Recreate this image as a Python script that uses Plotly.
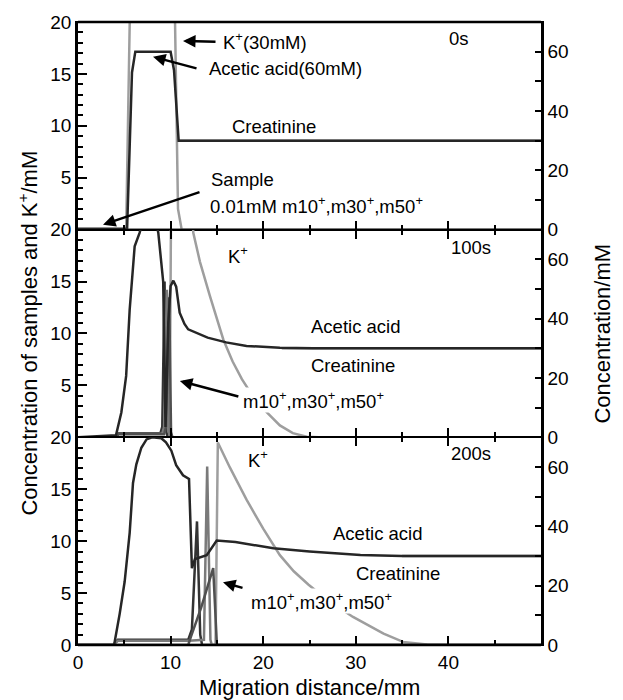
import plotly.graph_objects as go
from plotly.subplots import make_subplots

# ---------------- data ----------------
# axis ticks
x_major = [0, 10, 20, 30, 40]
x_minor = [5, 15, 25, 35, 45]
yl_major_top = [5, 10, 15, 20]
yl_major_bottom = [0, 5, 10, 15, 20]
yl_minor = [v for v in range(1, 20) if v % 5 != 0]
yr_major = [0, 20, 40, 60]
yr_minor = [10, 30, 50]

# ---- 0 s ----
k_x_0 = [0, 5.2, 5.78, 10.3, 10.8, 11.2, 50]
k_y_0 = [0, 0, 30, 30, 2, 0, 0]
acetic_x_0 = [0, 5.3, 5.83, 6.19, 10.0, 10.37, 10.87, 50]
acetic_y_0 = [0, 0, 53, 60, 60, 53.7, 30, 30]
creat_x_0 = [10.87, 50]
creat_y_0 = [30, 30]
sample_x_0 = [0, 5.2, 5.35, 50]
sample_y_0 = [0.1, 0.1, 0, 0]

# ---- 100 s ----
k_x_100 = [0, 9.9, 10.1, 11.9, 12.45, 13.17, 14.25, 15.0, 15.7, 16.7, 17.7, 19.0, 20.4, 21.8, 23.2, 24.7, 26.0, 50]
k_y_100 = [0, 0, 30, 30, 19.7, 16.9, 13.6, 11.4, 9.4, 7.3, 5.6, 3.8, 2.4, 1.15, 0.4, 0.05, 0, 0]
acetic_x_100 = [0, 4.1, 4.68, 5.2, 5.58, 5.94, 6.12, 6.66, 7.0, 8.4, 8.67, 9.2, 9.45, 9.75, 10.0, 10.3, 10.6,
                10.98, 11.5, 11.9, 13.0, 14.0, 16.0, 18.2, 21.8, 25.4, 50]
acetic_y_100 = [0, 0.7, 8.4, 20.7, 43, 57.4, 64.4, 69, 73, 73, 69, 52.5, 3.5, 38.5, 51, 52.8, 50.8,
                42, 38.2, 36.4, 35, 33.6, 32, 30.8, 30.2, 30.03, 30]
creat_x_100 = [22, 50]
creat_y_100 = [30, 30]
m10_x_100 = [0, 4.0, 4.4, 8.9, 9.1, 9.35, 9.55, 9.7, 50]
m10_y_100 = [0, 0, 0.4, 0.4, 1.0, 15.0, 0.5, 0, 0]
m30_x_100 = [0, 4.0, 4.4, 9.1, 9.3, 9.6, 9.8, 9.95, 50]
m30_y_100 = [0, 0, 0.35, 0.35, 1.0, 14.2, 0.5, 0, 0]
m50_x_100 = [0, 4.0, 4.4, 9.3, 9.5, 9.85, 10.05, 10.2, 50]
m50_y_100 = [0, 0, 0.3, 0.3, 1.0, 13.5, 0.5, 0, 0]

# ---- 200 s ----
k_x_200 = [0, 14.85, 15.1, 16.4, 18.2, 20.0, 21.8, 23.3, 24.9, 27.0, 29.7, 31.5, 33.0, 35.1, 37.7, 40, 50]
k_y_200 = [0, 0, 19.5, 17.1, 14.0, 11.2, 8.65, 7.1, 5.8, 4.3, 2.7, 1.8, 1.1, 0.3, 0.05, 0, 0]
acetic_x_200 = [0, 3.9, 4.5, 5.04, 5.58, 5.94, 6.3, 6.84, 7.4, 8.0, 9.0, 9.5, 10.08, 10.6, 11.34, 11.99,
                12.3, 12.63, 13.9, 14.98, 17, 19, 21.1, 25, 30.5, 35, 50]
acetic_y_200 = [0, 0, 10.5, 21.4, 37.8, 54.6, 60.9, 66.5, 69.3, 70, 69.7, 68.3, 65.5, 60.6, 57.2, 56,
                25.9, 29, 30.3, 35.2, 34.7, 33.6, 32.6, 31.5, 30.3, 30, 30]
creat_x_200 = [35, 50]
creat_y_200 = [30, 30]
m10_x_200 = [0, 3.8, 4.3, 11.9, 12.3, 12.85, 13.2, 13.4, 50]
m10_y_200 = [0, 0, 0.5, 0.5, 1.5, 11.9, 1.0, 0, 0]
m30_x_200 = [0, 3.8, 4.3, 12.0, 13.6, 13.95, 14.3, 14.45, 50]
m30_y_200 = [0, 0, 0.4, 0.4, 0.5, 17.2, 0.5, 0, 0]
m50_x_200 = [0, 11.9, 12.2, 13.3, 14.6, 15.0, 50]
m50_y_200 = [0, 0, 0.8, 3.6, 7.4, 0, 0]

# ---------------- styles ----------------
DARK = "#262626"
GRAY = "#9e9e9e"
CREAT = "#8a8a8a"
S1, S2, S3 = "#333333", "#7a7a7a", "#505050"
FONT = "Liberation Sans, Arial, sans-serif"
LW = 2.5

fig = make_subplots(rows=3, cols=1, shared_xaxes=True, vertical_spacing=0,
                    specs=[[{"secondary_y": True}]] * 3)


def line(x, y, color, row, sec=False, width=LW):
    fig.add_trace(go.Scatter(x=x, y=y, mode="lines", line=dict(color=color, width=width),
                             showlegend=False, hoverinfo="skip"),
                  row=row, col=1, secondary_y=sec)


# panel 1
line(k_x_0, k_y_0, GRAY, 1)
line(sample_x_0, sample_y_0, DARK, 1)
line(creat_x_0, creat_y_0, CREAT, 1, True)
line(acetic_x_0, acetic_y_0, DARK, 1, True)
# panel 2
line(k_x_100, k_y_100, GRAY, 2)
line(m10_x_100, m10_y_100, S1, 2)
line(m30_x_100, m30_y_100, S2, 2)
line(m50_x_100, m50_y_100, S3, 2)
line(creat_x_100, creat_y_100, CREAT, 2, True)
line(acetic_x_100, acetic_y_100, DARK, 2, True)
# panel 3
line(k_x_200, k_y_200, GRAY, 3)
line(m10_x_200, m10_y_200, S1, 3)
line(m30_x_200, m30_y_200, S2, 3)
line(m50_x_200, m50_y_200, S3, 3)
line(creat_x_200, creat_y_200, CREAT, 3, True)
line(acetic_x_200, acetic_y_200, DARK, 3, True)

tickfont = dict(family=FONT, size=19, color="black")
common = dict(showline=True, linecolor="black", ticks="inside", tickcolor="black",
              tickwidth=2, showgrid=False, zeroline=False, tickfont=tickfont)

for r in (1, 2, 3):
    fig.update_xaxes(row=r, col=1, domain=[0, 1], range=[0, 50], tickmode="array", tickvals=x_major,
                     ticklen=9, linewidth=1.3,
                     minor=dict(tickmode="array", tickvals=x_minor, ticks="inside", ticklen=5,
                                tickwidth=2, tickcolor="black"),
                     mirror=True if r == 1 else "ticks", showticklabels=(r == 3), **common)
    fig.update_yaxes(row=r, col=1, secondary_y=False, range=[0, 20], tickmode="array",
                     tickvals=yl_major_bottom if r == 3 else yl_major_top, ticklen=9, linewidth=LW,
                     minor=dict(tickmode="array", tickvals=yl_minor, ticks="inside", ticklen=5,
                                tickwidth=2, tickcolor="black"), **common)
    fig.update_yaxes(row=r, col=1, secondary_y=True, range=[0, 70], tickmode="array",
                     tickvals=yr_major, ticklen=6, linewidth=LW,
                     minor=dict(tickmode="array", tickvals=yr_minor, ticks="inside", ticklen=6,
                                tickwidth=2, tickcolor="black"), **common)

# thicker outer frame (top and bottom edges)
for yy in (0, 1):
    fig.add_shape(type="line", xref="paper", yref="paper", x0=0, x1=1, y0=yy, y1=yy,
                  line=dict(color="black", width=2.6), layer="above")

afont = dict(family=FONT, size=18.5, color="black")


def text(row, x, y, s, anchor="left", bg=None):
    fig.add_annotation(row=row, col=1, x=x, y=y, text=s, showarrow=False, xanchor=anchor,
                       yanchor="middle", font=afont, bgcolor=bg, borderpad=0)


def arrow(row, x, y, ax, ay):
    fig.add_annotation(row=row, col=1, x=x, y=y, text="", showarrow=True, ax=ax, ay=ay,
                       arrowhead=2, arrowsize=1.0, arrowwidth=2.5, arrowcolor="black")


SUP = "<sup>+</sup>"
MS = f"m10{SUP},m30{SUP},m50{SUP}"

# panel 1 texts
text(1, 15.55, 18.2, f"K{SUP}(30mM)")
arrow(1, 11.34, 18.18, 34, 1)
text(1, 14.04, 15.5, "Acetic acid(60mM)")
arrow(1, 8.1, 16.65, 45, 12)
text(1, 41.1, 18.4, "0s", anchor="center")
text(1, 16.5, 9.95, "Creatinine")
text(1, 14.25, 4.8, "Sample")
text(1, 14.15, 2.4, f"0.01mM {MS}")
arrow(1, 2.7, 0.48, 98, -33)

# panel 2 texts
text(2, 17.3, 17.6, f"K{SUP}", anchor="center")
text(2, 42.4, 18.3, "100s", anchor="center")
text(2, 25.05, 10.67, "Acetic acid")
text(2, 25.05, 6.95, "Creatinine")
text(2, 17.7, 3.6, MS, bg="white")
arrow(2, 11.0, 5.43, 60, 16)

# panel 3 texts
text(3, 19.4, 17.9, f"K{SUP}", anchor="center")
text(3, 42.4, 18.4, "200s", anchor="center")
text(3, 27.4, 10.75, "Acetic acid")
text(3, 29.9, 6.9, "Creatinine")
text(3, 18.6, 4.25, MS, bg="white")
arrow(3, 15.66, 6.04, 21, 6)

# axis titles
tfont = dict(family=FONT, size=22, color="black")
fig.add_annotation(xref="paper", yref="paper", x=0.5, y=-0.068, text="Migration distance/mm",
                   showarrow=False, xanchor="center", yanchor="middle", font=tfont)
fig.add_annotation(xref="paper", yref="paper", x=-0.110, y=0.5,
                   text=f"Concentration of samples and K{SUP}/mM", textangle=-90,
                   showarrow=False, xanchor="center", yanchor="middle", font=tfont)
fig.add_annotation(xref="paper", yref="paper", x=1.132, y=0.5, text="Concentration/mM",
                   textangle=-90, showarrow=False, xanchor="center", yanchor="middle", font=tfont)

fig.update_layout(width=623, height=700, margin=dict(l=78, r=82, t=13, b=55),
                  plot_bgcolor="white", paper_bgcolor="white", showlegend=False)

fig.write_html("out.html")
